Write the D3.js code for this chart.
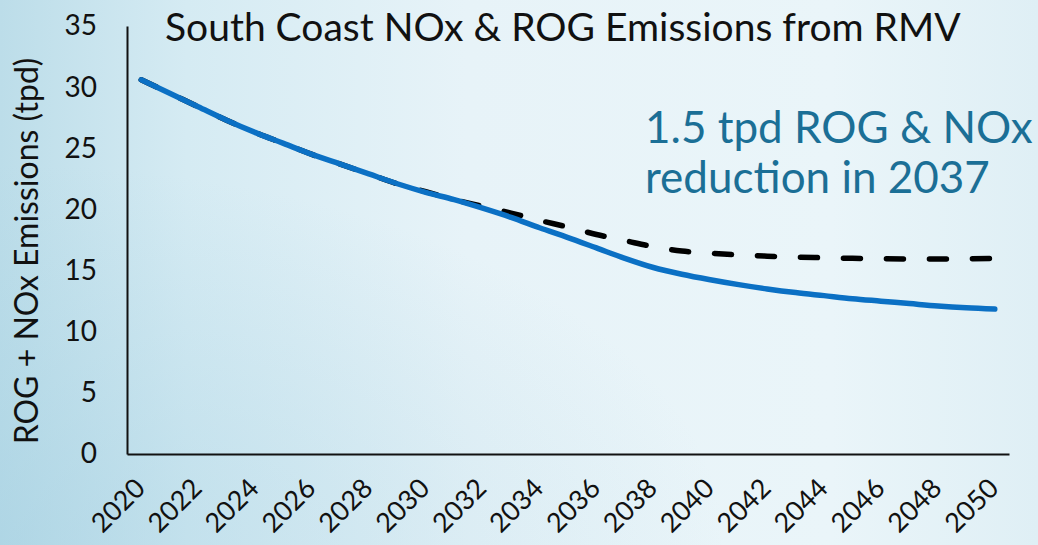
<!DOCTYPE html>
<html>
<head>
<meta charset="utf-8">
<script src="https://cdn.jsdelivr.net/npm/d3@7"></script>
<style>
  html, body { margin: 0; padding: 0; }
  body { width: 1038px; height: 545px; overflow: hidden; }
  svg { display: block; font-family: Lato, "Open Sans", sans-serif; }
</style>
</head>
<body>
<svg id="chart" width="1038" height="545"></svg>
<script>
// Years on the horizontal axis
const years = d3.range(2020, 2051);
// Labelled years (every other year)
const yearTicks = d3.range(2020, 2051, 2);
// Y axis tick values (tons per day)
const yTicks = [0, 5, 10, 15, 20, 25, 30, 35];

// ROG + NOx emissions with the measure (solid blue)
const withMeasure = [
  30.6, 29.5, 28.4, 27.3, 26.3, 25.4, 24.5, 23.7, 22.9, 22.1,
  21.4, 20.8, 20.1, 19.35, 18.5, 17.7, 16.85, 16.0, 15.25, 14.7,
  14.25, 13.85, 13.5, 13.2, 12.95, 12.7, 12.5, 12.3, 12.1, 11.95,
  11.85
];
// Baseline emissions without the measure (dashed black)
const baseline = [
  30.6, 29.5, 28.4, 27.3, 26.3, 25.4, 24.5, 23.7, 22.9, 22.1,
  21.45, 20.8, 20.25, 19.7, 19.1, 18.55, 17.95, 17.45, 16.95, 16.6,
  16.42, 16.28, 16.18, 16.1, 16.05, 16.0, 15.97, 15.95, 15.95, 15.97,
  16.0
];

const title = "South Coast NOx & ROG Emissions from RMV";
const yTitle = "ROG + NOx Emissions (tpd)";
const note = ["1.5 tpd ROG & NOx", "reduction in 2037"];

const svg = d3.select("#chart");
const W = 1038, H = 545;

// Soft blue backdrop
const defs = svg.append("defs");
const lg = defs.append("linearGradient").attr("id", "bg").attr("x1", "0").attr("x2", "1").attr("y1", "0").attr("y2", "0");
lg.append("stop").attr("offset", "0%").attr("stop-color", "#bcdde9");
lg.append("stop").attr("offset", "18%").attr("stop-color", "#d5ebf3");
lg.append("stop").attr("offset", "45%").attr("stop-color", "#e7f3f8");
lg.append("stop").attr("offset", "80%").attr("stop-color", "#eaf5f9");
lg.append("stop").attr("offset", "100%").attr("stop-color", "#dfeff5");
const rg = defs.append("radialGradient").attr("id", "shade").attr("cx", "0").attr("cy", "1").attr("r", "0.7");
rg.append("stop").attr("offset", "0%").attr("stop-color", "#9fcde0").attr("stop-opacity", 0.45);
rg.append("stop").attr("offset", "100%").attr("stop-color", "#9fcde0").attr("stop-opacity", 0);
svg.append("rect").attr("width", W).attr("height", H).attr("fill", "url(#bg)");
svg.append("rect").attr("width", W).attr("height", H).attr("fill", "url(#shade)");

const x = d3.scalePoint().domain(years).range([127, 1009]).padding(0.5);
const y = d3.scaleLinear().domain([0, 35]).range([454, 26]);

// Y axis
const gy = svg.append("g")
  .attr("transform", "translate(127,0)")
  .call(d3.axisLeft(y).tickValues(yTicks).tickSize(0).tickSizeOuter(0).tickPadding(30));
gy.select(".domain").attr("stroke", "#111").attr("stroke-width", 2);
gy.selectAll("text").attr("font-size", 28).attr("fill", "#111").attr("font-family", "Lato, sans-serif");

// X axis
const gx = svg.append("g")
  .attr("transform", "translate(0,454)")
  .call(d3.axisBottom(x).tickValues(yearTicks).tickSize(0).tickSizeOuter(0).tickFormat(d3.format("d")));
gx.select(".domain").attr("stroke", "#111").attr("stroke-width", 2);
gx.selectAll("text")
  .attr("font-size", 27).attr("fill", "#111").attr("font-family", "Lato, sans-serif")
  .attr("text-anchor", "end")
  .attr("dy", null).attr("y", null)
  .attr("transform", "translate(5,36) rotate(-45)");

// Y axis title
svg.append("text")
  .attr("transform", `translate(38,251) rotate(-90)`)
  .attr("text-anchor", "middle")
  .attr("font-size", 32).attr("fill", "#111")
  .text(yTitle);

// Chart title
svg.append("text")
  .attr("x", 165).attr("y", 41)
  .attr("font-size", 39).attr("fill", "#111")
  .text(title);

// Lines
const line = d3.line().x((d, i) => x(years[i])).y(d => y(d)).curve(d3.curveMonotoneX);

svg.append("path").datum(baseline)
  .attr("d", line)
  .attr("fill", "none").attr("stroke", "#000").attr("stroke-width", 5.5)
  .attr("stroke-dasharray", "17 26").attr("stroke-linecap", "round");

svg.append("path").datum(withMeasure)
  .attr("d", line)
  .attr("fill", "none").attr("stroke", "#0b70c4").attr("stroke-width", 5.5)
  .attr("stroke-linecap", "round").attr("stroke-linejoin", "round");

// Annotation
svg.append("g").selectAll("text").data(note).join("text")
  .attr("x", 645).attr("y", (d, i) => 143 + i * 50)
  .attr("font-size", 44).attr("fill", "#1b6f96")
  .text(d => d);
</script>
</body>
</html>
